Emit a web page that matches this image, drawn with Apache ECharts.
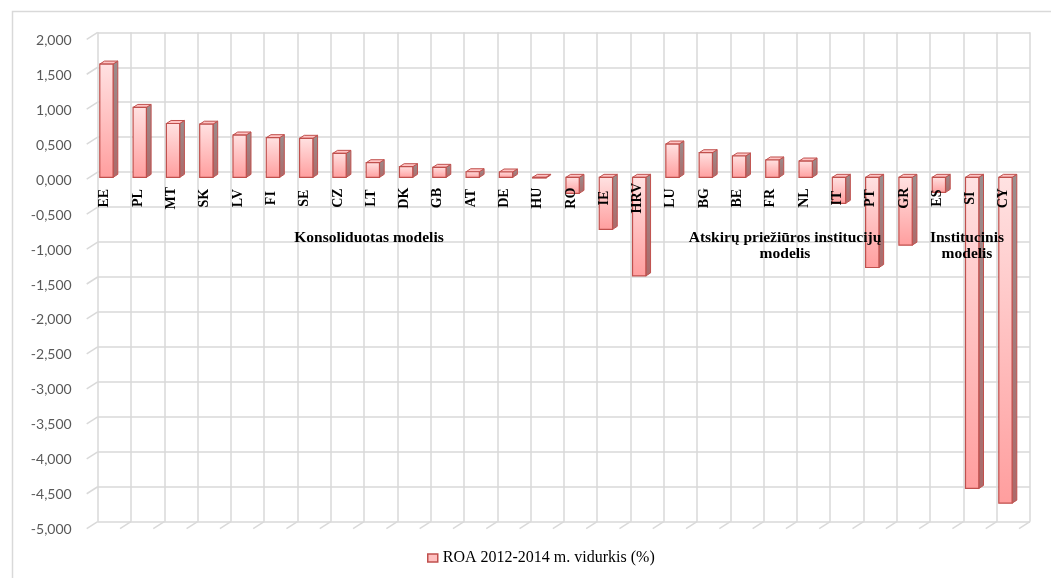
<!DOCTYPE html>
<html>
<head>
<meta charset="utf-8">
<script src="https://cdn.jsdelivr.net/npm/echarts@6/dist/echarts.min.js"></script>
<style>
  html, body { margin: 0; padding: 0; background: #fff; }
  #chart { width: 1051px; height: 578px; }
</style>
</head>
<body>
<div id="chart"></div>
<script>
// ROA by country, average 2012-2014 (%), grouped by supervision model
const categories = ['EE','PL','MT','SK','LV','FI','SE','CZ','LT','DK','GB','AT','DE','HU','RO','IE','HRV',
                    'LU','BG','BE','FR','NL','IT','PT','GR','ES','SI','CY'];
const roaValues = [1.62, 1.00, 0.77, 0.76, 0.605, 0.567, 0.558, 0.343, 0.209, 0.152, 0.143, 0.080, 0.076, -0.010,
                   -0.229, -0.744, -1.410, 0.476, 0.352, 0.305, 0.248, 0.233, -0.372, -1.290, -0.970, -0.215,
                   -4.450, -4.660];
const seriesName = 'ROA 2012-2014 m. vidurkis (%)';
const groupLabels = [
  { lines: ['Konsoliduotas modelis'], x: 369, y: 238 },
  { lines: ['Atskirų priežiūros institucijų', 'modelis'], x: 785, y: 238 },
  { lines: ['Institucinis', 'modelis'], x: 967, y: 238 }
];
const yMin = -5, yMax = 2, yStep = 0.5;

// oblique "3D" offsets: front plane of the bars relative to the back wall, and bar depth
const SHIFT_X = -7.9, SHIFT_Y = 5.2;
const DEPTH_X = 4.7, DEPTH_Y = -3;
// front edge of the floor / side wall relative to the back wall
const FLOOR_X = -11, FLOOR_Y = 7;

const chart = echarts.init(document.getElementById('chart'), null, { renderer: 'canvas' });

function renderBar(params, api) {
  const idx = api.value(0);
  const v = api.value(1);
  const pTop = api.coord([idx, v]);
  const pBase = api.coord([idx, 0]);
  const band = api.size([1, 0])[0];
  const bw = band * 0.4;
  const x = pTop[0] - bw / 2 + SHIFT_X;
  const y1 = Math.min(pTop[1], pBase[1]) + SHIFT_Y;
  const y2 = Math.max(pTop[1], pBase[1]) + SHIFT_Y;
  const border = '#c0504d';
  const children = [
    { // side face
      type: 'polygon',
      shape: { points: [[x + bw, y1], [x + bw + DEPTH_X, y1 + DEPTH_Y], [x + bw + DEPTH_X, y2 + DEPTH_Y], [x + bw, y2]] },
      style: {
        fill: new echarts.graphic.LinearGradient(0, 0, 0, 1, [
          { offset: 0, color: '#9a8e8e' }, { offset: 1, color: '#ac6a6a' }
        ]),
        stroke: border, lineWidth: 1
      }
    },
    { // top face
      type: 'polygon',
      shape: { points: [[x, y1], [x + DEPTH_X, y1 + DEPTH_Y], [x + bw + DEPTH_X, y1 + DEPTH_Y], [x + bw, y1]] },
      style: { fill: '#ffc4c4', stroke: border, lineWidth: 1 }
    },
    { // front face
      type: 'rect',
      shape: { x: x, y: y1, width: bw, height: Math.max(y2 - y1, 0.5) },
      style: {
        fill: new echarts.graphic.LinearGradient(0, 0, 0, 1, [
          { offset: 0, color: '#ffe2e2' }, { offset: 1, color: '#ff9e9e' }
        ]),
        stroke: border, lineWidth: 1.2
      }
    },
    { // category label, rotated, just below the zero line
      type: 'text',
      x: pBase[0] - 9.5,
      y: pBase[1] + 26,
      rotation: Math.PI / 2,
      style: {
        text: categories[idx],
        fill: '#000',
        font: 'bold 14px "Liberation Serif", "Times New Roman", serif',
        align: 'center',
        verticalAlign: 'middle'
      }
    }
  ];
  return { type: 'group', children: children };
}

function renderDecor(params, api) {
  const band = api.size([1, 0])[0];
  const left = api.coord([0, 0])[0] - band / 2;
  const bottom = api.coord([0, yMin])[1];
  const lines = [];
  const lineStyle = { stroke: '#d9d9d9', lineWidth: 1.5 };
  // slanted ticks on the value axis
  for (let v = yMin; v <= yMax + 1e-9; v += yStep) {
    const y = api.coord([0, v])[1];
    lines.push({ type: 'line', shape: { x1: left, y1: y, x2: left + FLOOR_X, y2: y + FLOOR_Y }, style: lineStyle });
  }
  // slanted ticks along the floor edge
  for (let i = 1; i <= categories.length; i++) {
    const x = left + i * band;
    lines.push({ type: 'line', shape: { x1: x, y1: bottom, x2: x + FLOOR_X, y2: bottom + FLOOR_Y }, style: lineStyle });
  }
  return { type: 'group', children: lines };
}

const graphics = [
  {
    type: 'rect', left: 10, top: 9, z: -10, silent: true,
    shape: { width: 1100, height: 620 },
    style: { fill: 'none', stroke: '#d9d9d9', lineWidth: 1.5 }
  }
];
groupLabels.forEach(g => {
  g.lines.forEach((t, k) => {
    graphics.push({
      type: 'text', x: g.x, y: g.y + k * 15.5, z: 100, silent: true,
      style: {
        text: t, fill: '#000', align: 'center', verticalAlign: 'middle',
        font: 'bold 15.5px "Liberation Serif", "Times New Roman", serif'
      }
    });
  });
});

const option = {
  backgroundColor: '#fff',
  animation: false,
  grid: { left: 97.7, right: 21, top: 32.3, bottom: 56.3, containLabel: false },
  xAxis: {
    type: 'category',
    data: categories,
    boundaryGap: true,
    axisLine: { show: false },
    axisTick: { show: false },
    axisLabel: { show: false },
    splitLine: { show: true, lineStyle: { color: '#d9d9d9', width: 1.5 } }
  },
  yAxis: {
    type: 'value',
    min: yMin, max: yMax, interval: yStep,
    axisLine: { show: false },
    axisTick: { show: false },
    splitLine: { show: true, lineStyle: { color: '#d9d9d9', width: 1.5 } },
    axisLabel: {
      margin: 26,
      color: '#595959',
      fontFamily: 'Lato, "Liberation Sans", sans-serif',
      fontSize: 14,
      verticalAlign: 'top',
      padding: [1, 0, 0, 0],
      formatter: v => v.toFixed(3).replace('.', ',')
    }
  },
  legend: {
    show: true,
    data: [seriesName],
    bottom: 7,
    left: 422,
    icon: 'rect',
    itemWidth: 10,
    itemHeight: 8,
    itemGap: 4,
    itemStyle: { color: '#ffc0c0', borderColor: '#c0504d', borderWidth: 1.5 },
    textStyle: { color: '#000', fontFamily: '"Liberation Serif", "Times New Roman", serif', fontSize: 16 }
  },
  graphic: graphics,
  series: [
    {
      type: 'custom',
      name: '__decor',
      silent: true,
      renderItem: renderDecor,
      data: [[0, 0]],
      z: 1
    },
    {
      type: 'custom',
      name: seriesName,
      renderItem: renderBar,
      itemStyle: { color: '#ffc0c0', borderColor: '#c0504d' },
      encode: { x: 0, y: 1 },
      data: roaValues.map((v, i) => [i, v]),
      z: 2
    }
  ]
};

chart.setOption(option);
</script>
</body>
</html>
